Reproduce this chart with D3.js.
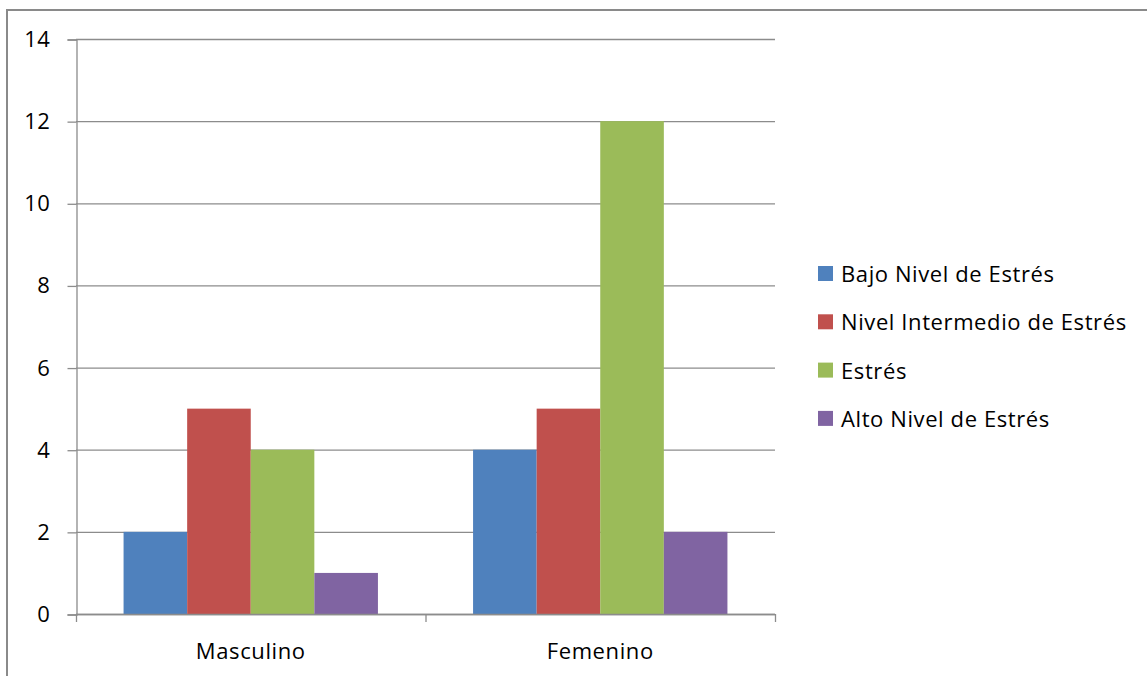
<!DOCTYPE html>
<html>
<head>
<meta charset="utf-8">
<script src="https://cdn.jsdelivr.net/npm/d3@7"></script>
<style>
  html, body { margin: 0; padding: 0; background: #fff; }
  svg { display: block; }
  text { font-family: "Open Sans", Lato, sans-serif; fill: #000; letter-spacing: 0.6px; }
</style>
</head>
<body>
<svg id="chart" width="1147" height="676"></svg>
<script>
// Groups along the x axis
const categories = ["Masculino", "Femenino"];
// Series names, shown in the legend
const seriesNames = ["Bajo Nivel de Estrés", "Nivel Intermedio de Estrés", "Estrés", "Alto Nivel de Estrés"];
// Values per series, one per category
const bajo = [2, 4];
const intermedio = [5, 5];
const estres = [4, 12];
const alto = [1, 2];
const seriesValues = [bajo, intermedio, estres, alto];
const seriesColors = ["#4F81BD", "#C0504D", "#9BBB59", "#8064A2"];
const yTicks = [0, 2, 4, 6, 8, 10, 12, 14];

const svg = d3.select("#chart");
const gridColor = "#8c8c8c";
const fontSize = "22px";

// Outer frame of the chart area
svg.append("rect")
  .attr("x", 7).attr("y", 10)
  .attr("width", 1160).attr("height", 700)
  .attr("fill", "none").attr("stroke", "#8a8a8a").attr("stroke-width", 2);

const plot = { left: 76, right: 775, top: 39, bottom: 614 };

const y = d3.scaleLinear().domain([0, 14]).range([plot.bottom, plot.top]);
const x0 = d3.scaleBand().domain(categories).range([plot.left, plot.right]).padding(0);
const x1 = d3.scaleBand().domain(seriesNames).range([0, x0.bandwidth()])
  .paddingInner(0).paddingOuter(0.748);

// Horizontal gridlines
svg.append("g").selectAll("line").data(yTicks).join("line")
  .attr("x1", plot.left).attr("x2", plot.right)
  .attr("y1", d => y(d) + 0.5).attr("y2", d => y(d) + 0.5)
  .attr("stroke", gridColor).attr("stroke-width", 1.3);

// Y axis
const yAxis = d3.axisLeft(y).tickValues(yTicks).tickSize(9).tickPadding(17);
const gy = svg.append("g").attr("transform", `translate(${plot.left + 0.5},0.5)`).call(yAxis);
gy.select(".domain").attr("stroke", gridColor).attr("stroke-width", 1.3);
gy.selectAll(".tick line").attr("stroke", gridColor).attr("stroke-width", 1.3);
gy.selectAll(".tick text").style("font-size", fontSize)
  .style("font-family", "'Open Sans', sans-serif").style("letter-spacing", "0.6px").attr("fill", "#000");

// Bars
const groups = svg.append("g").selectAll("g").data(categories).join("g")
  .attr("transform", d => `translate(${x0(d)},0)`);
groups.selectAll("rect")
  .data((c, ci) => seriesNames.map((s, si) => ({ s, si, v: seriesValues[si][ci] })))
  .join("rect")
  .attr("x", d => x1(d.s))
  .attr("width", x1.bandwidth())
  .attr("y", d => y(d.v))
  .attr("height", d => y(0) - y(d.v))
  .attr("fill", d => seriesColors[d.si]);

// X axis with category boundary ticks
const xBounds = [plot.left, x0("Femenino"), plot.right];
const gx = svg.append("g");
gx.append("line")
  .attr("x1", plot.left).attr("x2", plot.right)
  .attr("y1", plot.bottom + 0.5).attr("y2", plot.bottom + 0.5)
  .attr("stroke", gridColor).attr("stroke-width", 1.3);
gx.selectAll("line.tk").data(xBounds).join("line").attr("class", "tk")
  .attr("x1", d => d + 0.5).attr("x2", d => d + 0.5)
  .attr("y1", plot.bottom).attr("y2", plot.bottom + 8)
  .attr("stroke", gridColor).attr("stroke-width", 1.3);
gx.selectAll("text").data(categories).join("text")
  .attr("x", d => x0(d) + x0.bandwidth() / 2)
  .attr("y", 659)
  .attr("text-anchor", "middle")
  .style("font-size", fontSize)
  .text(d => d);

// Legend
const legend = svg.append("g").selectAll("g").data(seriesNames).join("g")
  .attr("transform", (d, i) => `translate(818,${273.5 + i * 48.3})`);
legend.append("rect")
  .attr("x", 0).attr("y", -7.5).attr("width", 15).attr("height", 15)
  .attr("fill", (d, i) => seriesColors[i]);
legend.append("text")
  .attr("x", 23).attr("y", 8.5)
  .style("font-size", fontSize)
  .text(d => d);
</script>
</body>
</html>
